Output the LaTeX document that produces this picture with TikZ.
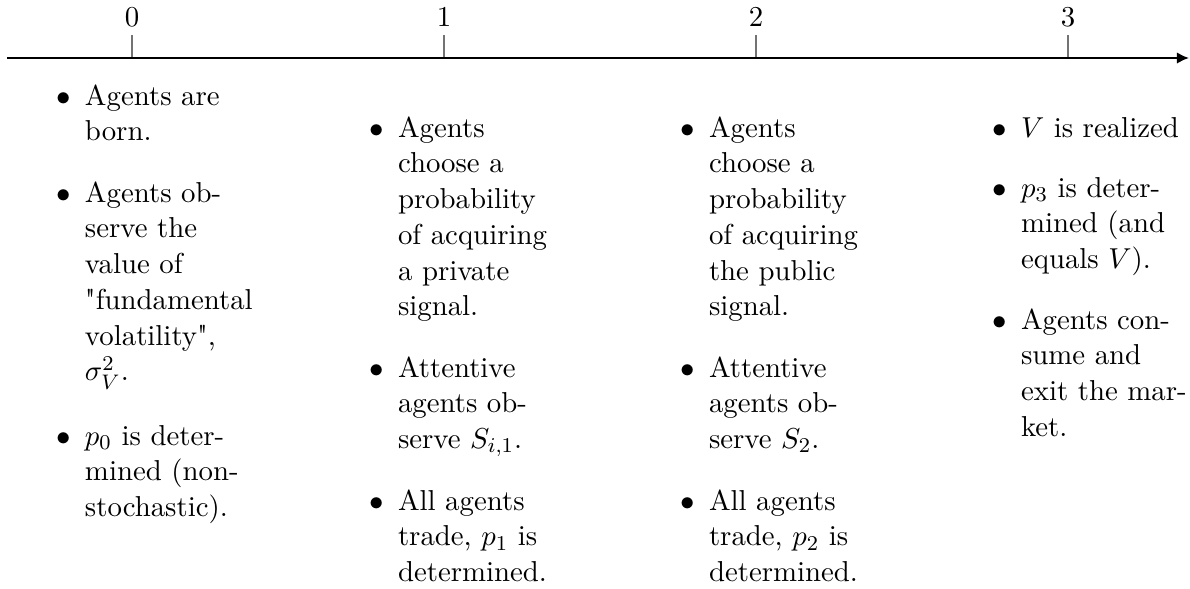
\documentclass[tikz,border=0pt]{standalone}
\usepackage{fontspec}
\usetikzlibrary{arrows.meta}
\newcommand{\bul}{\llap{$\bullet$\hspace{5.5pt}}}
\newcommand{\itm}[1]{\begin{tabular}[t]{@{}l@{}}\bul #1\end{tabular}}
\begin{document}
\begin{tikzpicture}[x=0.38pt,y=-0.38pt,
  every node/.style={inner sep=0pt, outer sep=0pt, font=\fontsize{10.95}{13.6}\selectfont},
  itembox/.style={anchor=base west},
  ticklabel/.style={anchor=base},
  tickmark/.style={draw=black!55, line width=0.5pt},
  axisline/.style={line width=0.8pt, -{Latex[length=4.6pt,width=4.4pt]}}]
\useasboundingbox (0,0) rectangle (1190,588);
% ticks and labels
\foreach \i in {0,1,2,3}{
  \coordinate (tb\i) at (132+312*\i,58);
  \coordinate (tt\i) at (132+312*\i,35);
  \draw[tickmark] (tt\i) -- (tb\i);
  \node[ticklabel] (lab\i) at (132+312*\i,26) {\i};
}
% axis
\coordinate (axstart) at (7,58);
\coordinate (axend) at (1189,58);
\draw[axisline] (axstart) -- (axend);
% column 0
\node[itembox] (c0a) at (85,105) {\itm{Agents are\\born.}};
\node[itembox] (c0b) at (85,202) {\itm{Agents ob-\\serve the\\value of\\\textquotedbl fundamental\\volatility\textquotedbl,\\$\sigma_V^2$.}};
\node[itembox] (c0c) at (85,445) {\itm{$p_0$ is deter-\\mined (non-\\stochastic).}};
% column 1
\node[itembox] (c1a) at (398,137) {\itm{Agents\\choose a\\probability\\of acquiring\\a private\\signal.}};
\node[itembox] (c1b) at (398,377) {\itm{Attentive\\agents ob-\\serve $S_{i,1}$.}};
\node[itembox] (c1c) at (398,510) {\itm{All agents\\trade, $p_1$ is\\determined.}};
% column 2
\node[itembox] (c2a) at (709,137) {\itm{Agents\\choose a\\probability\\of acquiring\\the public\\signal.}};
\node[itembox] (c2b) at (709,377) {\itm{Attentive\\agents ob-\\serve $S_2$.}};
\node[itembox] (c2c) at (709,510) {\itm{All agents\\trade, $p_2$ is\\determined.}};
% column 3
\node[itembox] (c3a) at (1021,137) {\itm{$V$ is realized}};
\node[itembox] (c3b) at (1021,197) {\itm{$p_3$ is deter-\\mined (and\\equals $V$).}};
\node[itembox] (c3c) at (1021,329) {\itm{Agents con-\\sume and\\exit the mar-\\ket.}};
\end{tikzpicture}
\end{document}
